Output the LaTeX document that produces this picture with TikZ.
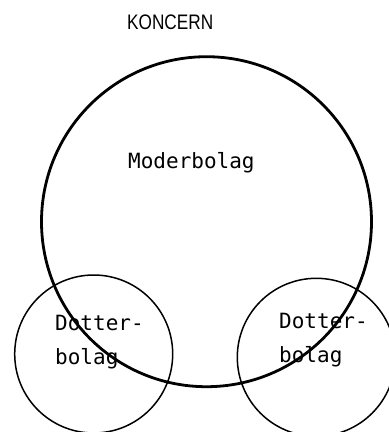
\documentclass[tikz,border=0pt]{standalone}
\usepackage{fontspec}
\newfontfamily\typfont{DejaVu Sans Mono}
\newfontfamily\rubrikfont{Liberation Sans}

\tikzset{
  bolag/.style={circle, draw, inner sep=0pt, minimum size=158pt, line width=1.5pt},
  etikett/.style={anchor=base west, inner sep=0pt, font=\typfont\fontsize{21pt}{25pt}\selectfont}
}

\begin{document}
\begin{tikzpicture}[x=1pt, y=-1pt]
                \useasboundingbox (0,0) rectangle (389,432);
                \clip (0,0) rectangle (389,432);

                % Rubrik
                \node[anchor=base west, inner sep=0pt, xscale=0.82, font=\rubrikfont\fontsize{21pt}{25pt}\selectfont] (koncern) at (127,29)
                    {KONCERN};

                % Moderbolag
                \node[circle, draw, inner sep=0pt, minimum size=330pt, line width=2.8pt] (moder) at (206.5,221.7) {};
                \node[etikett] (modertext) at (128,168.3) {Moderbolag};

                % Dotterbolag
                \node[bolag] (dotterA) at (93.7,354) {};
                \node[etikett] (dotterAtext) at (55,330) {Dotter-};
                \node[etikett] (dotterAbolag) at (55,364) {bolag};

                \node[bolag] (dotterB) at (316.3,357.3) {};
                \node[etikett] (dotterBtext) at (279,328.3) {Dotter-};
                \node[etikett] (dotterBbolag) at (279,362.7) {bolag};
\end{tikzpicture}
\end{document}
